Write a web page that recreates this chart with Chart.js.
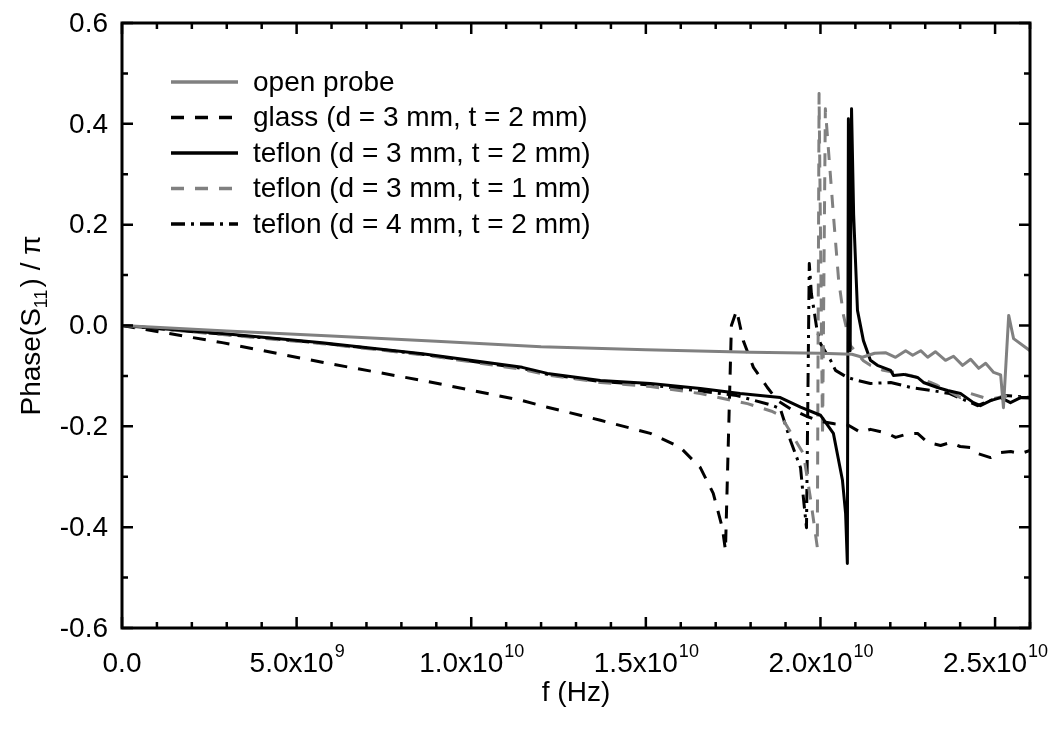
<!DOCTYPE html>
<html>
<head>
<meta charset="utf-8">
<script src="https://cdn.jsdelivr.net/npm/chart.js@4.4.0/dist/chart.umd.min.js"></script>
<style>
  html, body { margin: 0; padding: 0; background: #fff; }
</style>
</head>
<body>
<canvas id="phaseChart" width="1053" height="731"></canvas>
<script>
// frequency in GHz, phase in units of pi
var openFreq = [0, 3, 6, 9, 12, 15, 18, 20, 20.9, 21.2, 21.55, 21.86, 22.15, 22.44, 22.64, 22.87, 23.07, 23.29, 23.58, 23.81, 24.07, 24.30, 24.53, 24.73, 24.96, 25.16, 25.24, 25.39, 25.53, 26.0];
var openPhase = [0, -0.011, -0.021, -0.031, -0.042, -0.048, -0.053, -0.055, -0.057, -0.063, -0.055, -0.054, -0.063, -0.050, -0.059, -0.050, -0.063, -0.052, -0.069, -0.061, -0.079, -0.067, -0.085, -0.075, -0.093, -0.098, -0.163, 0.020, -0.026, -0.050];

var glassFreq = [0, 2.87, 5.73, 8.6, 11.46, 12.18, 13.7, 15.13, 15.99, 16.56, 16.93, 17.19, 17.28, 17.45, 17.6, 17.79, 18.08, 18.48, 18.77, 19.14, 19.6, 20.0, 20.4, 20.8, 21.15, 21.43, 21.92, 22.15, 22.5, 22.78, 23.07, 23.44, 23.72, 24.0, 24.3, 24.5, 24.87, 25.16, 25.45, 25.73, 26.0];
var glassPhase = [0, -0.034, -0.073, -0.109, -0.149, -0.162, -0.188, -0.214, -0.242, -0.282, -0.333, -0.401, -0.446, 0.0, 0.03, -0.03, -0.083, -0.123, -0.149, -0.165, -0.18, -0.19, -0.195, -0.198, -0.212, -0.206, -0.214, -0.222, -0.215, -0.214, -0.232, -0.238, -0.232, -0.24, -0.242, -0.254, -0.262, -0.252, -0.25, -0.254, -0.248];

var teflon32Freq = [0, 2.87, 5.73, 8.6, 11.46, 12.18, 13.7, 15.13, 16.56, 17.7, 18.85, 19.43, 20.0, 20.37, 20.63, 20.72, 20.77, 20.80, 20.85, 20.89, 20.95, 21.06, 21.23, 21.43, 21.63, 22.01, 22.09, 22.38, 22.78, 22.95, 23.35, 23.64, 24.01, 24.38, 24.58, 24.87, 25.16, 25.44, 25.73, 26.0];
var teflon32Phase = [0, -0.016, -0.034, -0.056, -0.083, -0.095, -0.109, -0.115, -0.125, -0.135, -0.143, -0.162, -0.178, -0.214, -0.307, -0.373, -0.472, 0.41, -0.05, 0.43, 0.22, 0.03, -0.03, -0.069, -0.079, -0.089, -0.099, -0.097, -0.103, -0.113, -0.123, -0.129, -0.135, -0.153, -0.159, -0.149, -0.143, -0.153, -0.143, -0.143];

var teflon31Freq = [0, 2.87, 5.73, 8.6, 11.46, 12.18, 13.7, 15.13, 16.56, 17.91, 18.6, 18.85, 19.06, 19.51, 19.71, 19.91, 19.96, 20.06, 20.14, 20.26, 20.37, 20.52, 20.66, 20.86, 21.23, 21.43, 21.80, 22.29, 22.58, 22.87, 23.15, 23.35, 23.64, 24.01, 24.30, 24.67, 24.96, 25.3, 25.6, 26.0];
var teflon31Phase = [0, -0.018, -0.036, -0.058, -0.087, -0.098, -0.113, -0.121, -0.135, -0.155, -0.170, -0.178, -0.202, -0.254, -0.341, -0.440, 0.46, -0.22, 0.43, 0.32, 0.22, 0.09, 0.02, -0.04, -0.07, -0.079, -0.089, -0.095, -0.099, -0.105, -0.113, -0.119, -0.129, -0.143, -0.135, -0.143, -0.145, -0.14, -0.143, -0.145];

var teflon42Freq = [0, 2.87, 5.73, 8.6, 11.46, 12.18, 13.7, 15.13, 16.56, 17.6, 18.6, 18.85, 19.14, 19.43, 19.51, 19.6, 19.68, 19.74, 19.83, 19.89, 20.0, 20.29, 20.43, 20.77, 21.06, 21.43, 22.01, 22.6, 23.2, 23.7, 24.3, 24.5, 24.8, 25.3, 26.0];
var teflon42Phase = [0, -0.017, -0.035, -0.057, -0.085, -0.097, -0.111, -0.118, -0.130, -0.139, -0.158, -0.165, -0.228, -0.282, -0.341, -0.401, 0.123, 0.063, 0.024, -0.004, -0.036, -0.069, -0.089, -0.103, -0.109, -0.115, -0.113, -0.123, -0.129, -0.135, -0.153, -0.159, -0.15, -0.139, -0.143];

var seriesNames = [
  'open probe',
  'glass (d = 3 mm, t = 2 mm)',
  'teflon (d = 3 mm, t = 2 mm)',
  'teflon (d = 3 mm, t = 1 mm)',
  'teflon (d = 4 mm, t = 2 mm)'
];

var xTicks = [0, 5e9, 1e10, 1.5e10, 2e10, 2.5e10];
var xTickBase = ['0.0', '5.0x10', '1.0x10', '1.5x10', '2.0x10', '2.5x10'];
var xTickExp = ['', '9', '10', '10', '10', '10'];
var yTicks = [0.6, 0.4, 0.2, 0.0, -0.2, -0.4, -0.6];

var FONT = '"Liberation Sans", Arial, sans-serif';
var BIG = '28px ' + FONT;
var SMALL = '18px ' + FONT;

function toPoints(freqs, phases) {
  return freqs.map(function (f, i) {
    return { x: f * 1e9, y: phases[i] };
  });
}

function lineSet(label, freqs, phases, color, dash) {
  return {
    label: label,
    data: toPoints(freqs, phases),
    borderColor: color,
    borderWidth: 3,
    borderDash: dash,
    borderJoinStyle: 'round',
    pointRadius: 0,
    tension: 0,
    fill: false
  };
}

var framePlugin = {
  id: 'frame',
  afterDraw: function (chart) {
    var ctx = chart.ctx;
    var area = chart.chartArea;
    var xs = chart.scales.x;
    var ys = chart.scales.y;
    var i, px, py, len;

    ctx.save();
    ctx.strokeStyle = '#000';
    ctx.lineWidth = 3;
    ctx.strokeRect(area.left, area.top, area.right - area.left, area.bottom - area.top);

    // inward ticks on all four sides
    ctx.lineWidth = 2.5;
    ctx.beginPath();
    for (i = 0; i <= 26; i++) {
      px = xs.getPixelForValue(i * 1e9);
      len = (i % 5 === 0) ? 11 : 6;
      ctx.moveTo(px, area.bottom);
      ctx.lineTo(px, area.bottom - len);
      ctx.moveTo(px, area.top);
      ctx.lineTo(px, area.top + len);
    }
    for (i = -6; i <= 6; i++) {
      py = ys.getPixelForValue(i / 10);
      len = (i % 2 === 0) ? 11 : 6;
      ctx.moveTo(area.left, py);
      ctx.lineTo(area.left + len, py);
      ctx.moveTo(area.right, py);
      ctx.lineTo(area.right - len, py);
    }
    ctx.stroke();

    ctx.fillStyle = '#000';

    // y tick labels
    ctx.font = BIG;
    ctx.textAlign = 'right';
    ctx.textBaseline = 'middle';
    yTicks.forEach(function (v) {
      ctx.fillText(v.toFixed(1), area.left - 14, ys.getPixelForValue(v) + 1);
    });

    // x tick labels with superscript exponent
    ctx.textAlign = 'left';
    ctx.textBaseline = 'alphabetic';
    xTicks.forEach(function (v, k) {
      ctx.font = BIG;
      var wb = ctx.measureText(xTickBase[k]).width;
      ctx.font = SMALL;
      var we = xTickExp[k] ? ctx.measureText(xTickExp[k]).width : 0;
      var start = xs.getPixelForValue(v) - (wb + we) / 2;
      ctx.font = BIG;
      ctx.fillText(xTickBase[k], start, area.bottom + 44);
      if (xTickExp[k]) {
        ctx.font = SMALL;
        ctx.fillText(xTickExp[k], start + wb + 1, area.bottom + 29);
      }
    });

    // x axis title
    ctx.font = BIG;
    ctx.textAlign = 'center';
    ctx.fillText('f (Hz)', (area.left + area.right) / 2, 701);

    // y axis title, rotated, with subscript
    ctx.save();
    ctx.translate(40, (area.top + area.bottom) / 2);
    ctx.rotate(-Math.PI / 2);
    ctx.textAlign = 'left';
    var parts = [['Phase(S', BIG, 0, 0], ['11', SMALL, 7, 2], [') / ', BIG, 0, 0], ['\u03c0', BIG, 0, 0]];
    var total = 0;
    parts.forEach(function (p) {
      ctx.font = p[1];
      total += ctx.measureText(p[0]).width + p[3];
    });
    var cx = -total / 2;
    parts.forEach(function (p) {
      ctx.font = p[1];
      ctx.fillText(p[0], cx, p[2]);
      cx += ctx.measureText(p[0]).width + p[3];
    });
    ctx.restore();

    // legend inside the plot
    ctx.font = BIG;
    ctx.textAlign = 'left';
    ctx.textBaseline = 'middle';
    chart.data.datasets.forEach(function (ds, k) {
      var rowY = area.top + 59 + k * 35.5;
      ctx.save();
      ctx.strokeStyle = ds.borderColor;
      ctx.lineWidth = 3.5;
      ctx.setLineDash(ds.borderDash || []);
      ctx.beginPath();
      ctx.moveTo(area.left + 49, rowY);
      ctx.lineTo(area.left + 116, rowY);
      ctx.stroke();
      ctx.restore();
      ctx.fillText(ds.label, area.left + 131, rowY + 1);
    });

    ctx.restore();
  }
};

var ctx = document.getElementById('phaseChart').getContext('2d');
var phaseChart = new Chart(ctx, {
  type: 'line',
  data: {
    datasets: [
      lineSet(seriesNames[0], openFreq, openPhase, '#808080', []),
      lineSet(seriesNames[1], glassFreq, glassPhase, '#000000', [13, 11]),
      lineSet(seriesNames[2], teflon32Freq, teflon32Phase, '#000000', []),
      lineSet(seriesNames[3], teflon31Freq, teflon31Phase, '#808080', [13, 11]),
      lineSet(seriesNames[4], teflon42Freq, teflon42Phase, '#000000', [14, 6, 3, 6])
    ]
  },
  options: {
    responsive: false,
    animation: false,
    events: [],
    layout: { padding: { left: 122, top: 23, right: 23, bottom: 103 } },
    scales: {
      x: { type: 'linear', min: 0, max: 2.6e10, display: false },
      y: { type: 'linear', min: -0.6, max: 0.6, display: false }
    },
    plugins: {
      legend: { display: false },
      tooltip: { enabled: false }
    }
  },
  plugins: [framePlugin]
});
</script>
</body>
</html>
